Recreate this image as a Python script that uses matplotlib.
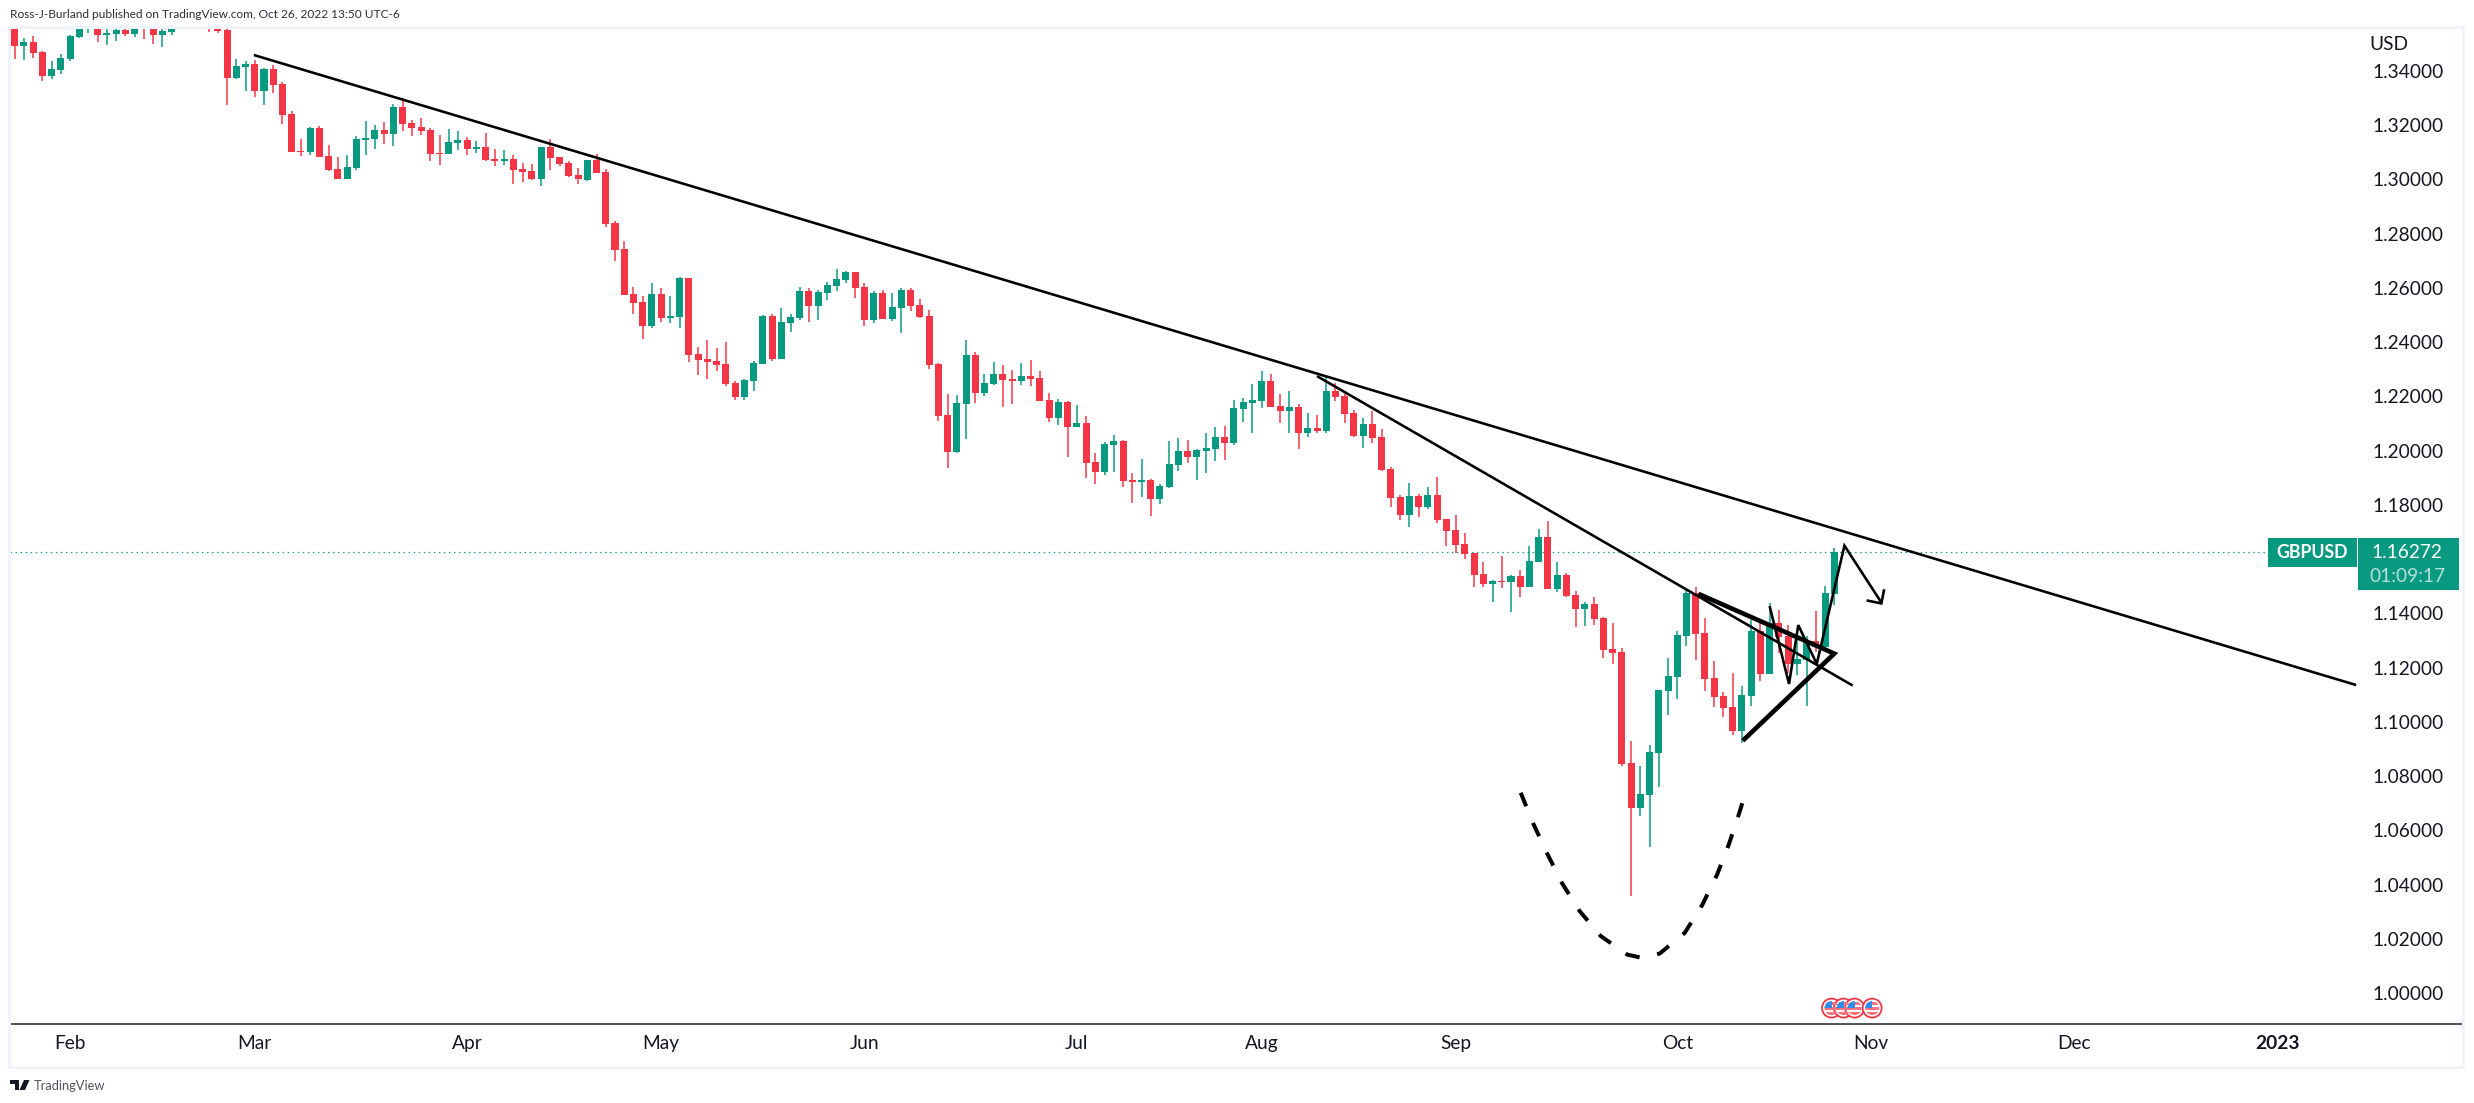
import numpy as np
import matplotlib
matplotlib.use("Agg")
import matplotlib.pyplot as plt
from matplotlib.patches import Rectangle, Circle, Polygon
from matplotlib.transforms import IdentityTransform

W, H = 2474, 1103
FONT = "Lato"
plt.rcParams["font.family"] = [FONT, "DejaVu Sans"]

# ---- candle data (GBPUSD daily) ----
direction = ("RGRRGGGGGR" "GGRGRRGGGR" "GRRRGGRGRR" "RRGRRRGGGG" "RGRRRRRGGR"
             "GRRGRRRGRR" "RRGRRRRRRG" "RGGRRRRRRG" "GGRGGGRGGG" "GRRGRGGRRR"
             "RRGGRGGRRG" "RRRGRGRRGG" "RRGRGGGRGG" "GRGGGGRRGR" "GRGRRRGRRR"
             "RGRGRRRRRR" "GRGRGGRGRR" "GRRRRRGGGG" "GGRRRRRGGR" "GRRGGRGG")
high = [
 1.3588,1.3522,1.3529,1.3473,1.3437,1.3463,1.3533,1.3576,1.3576,1.3576,
 1.3554,1.3561,1.3557,1.3570,1.3576,1.3566,1.3557,1.3570,1.3588,1.3588,
 1.3588,1.3582,1.3576,1.3554,1.3443,1.3437,1.3441,1.3410,1.3422,1.3358,
 1.3251,1.3149,1.3195,1.3197,1.3127,1.3082,1.3090,1.3160,1.3216,1.3200,
 1.3212,1.3277,1.3299,1.3218,1.3227,1.3189,1.3164,1.3186,1.3179,1.3157,
 1.3142,1.3170,1.3113,1.3109,1.3090,1.3061,1.3057,1.3120,1.3148,1.3084,
 1.3067,1.3042,1.3073,1.3094,1.3039,1.2848,1.2773,1.2604,1.2570,1.2618,
 1.2600,1.2570,1.2640,1.2637,1.2382,1.2408,1.2379,1.2401,1.2257,1.2264,
 1.2331,1.2500,1.2504,1.2526,1.2504,1.2604,1.2600,1.2592,1.2622,1.2670,
 1.2663,1.2659,1.2618,1.2589,1.2592,1.2581,1.2600,1.2600,1.2559,1.2519,
 1.2323,1.2209,1.2205,1.2408,1.2364,1.2283,1.2327,1.2316,1.2298,1.2323,
 1.2334,1.2294,1.2213,1.2191,1.2183,1.2168,1.2128,1.1992,1.2032,1.2058,
 1.2040,1.1918,1.1969,1.1896,1.1877,1.2036,1.2047,1.2040,1.2006,1.2065,
 1.2087,1.2091,1.2187,1.2194,1.2246,1.2294,1.2283,1.2209,1.2220,1.2172,
 1.2139,1.2132,1.2279,1.2250,1.2217,1.2150,1.2121,1.2147,1.2080,1.1940,
 1.1837,1.1881,1.1840,1.1866,1.1903,1.1748,1.1763,1.1697,1.1624,1.1590,
 1.1523,1.1612,1.1542,1.1560,1.1649,1.1711,1.1741,1.1590,1.1549,1.1483,
 1.1442,1.1461,1.1387,1.1365,1.1273,1.0930,1.0838,1.0915,1.1118,1.1236,
 1.1335,1.1490,1.1497,1.1383,1.1225,1.1110,1.1180,1.1133,1.1376,1.1368,
 1.1438,1.1413,1.1357,1.1321,1.1317,1.1409,1.1501,1.1641]
body_top = [
 1.3559,1.3507,1.3507,1.3470,1.3407,1.3447,1.3529,1.3566,1.3570,1.3566,
 1.3540,1.3550,1.3550,1.3561,1.3566,1.3561,1.3546,1.3561,1.3576,1.3582,
 1.3582,1.3576,1.3570,1.3551,1.3418,1.3426,1.3426,1.3406,1.3407,1.3352,
 1.3241,1.3105,1.3190,1.3190,1.3087,1.3039,1.3046,1.3149,1.3153,1.3183,
 1.3183,1.3267,1.3267,1.3208,1.3194,1.3183,1.3098,1.3137,1.3146,1.3146,
 1.3120,1.3120,1.3076,1.3076,1.3076,1.3039,1.3031,1.3120,1.3120,1.3083,
 1.3061,1.3017,1.3071,1.3072,1.3028,1.2840,1.2744,1.2578,1.2548,1.2578,
 1.2578,1.2497,1.2637,1.2637,1.2356,1.2338,1.2331,1.2320,1.2250,1.2261,
 1.2323,1.2497,1.2497,1.2475,1.2493,1.2589,1.2589,1.2585,1.2611,1.2633,
 1.2659,1.2659,1.2604,1.2581,1.2581,1.2530,1.2592,1.2592,1.2537,1.2497,
 1.2320,1.2132,1.2176,1.2353,1.2353,1.2250,1.2283,1.2283,1.2264,1.2275,
 1.2275,1.2268,1.2187,1.2180,1.2180,1.2102,1.2102,1.1958,1.2025,1.2036,
 1.2036,1.1892,1.1892,1.1892,1.1870,1.1951,1.1999,1.1999,1.2003,1.2010,
 1.2051,1.2051,1.2158,1.2180,1.2187,1.2257,1.2257,1.2165,1.2161,1.2161,
 1.2084,1.2084,1.2220,1.2220,1.2202,1.2139,1.2099,1.2099,1.2051,1.1933,
 1.1829,1.1833,1.1833,1.1837,1.1837,1.1748,1.1708,1.1656,1.1623,1.1545,
 1.1520,1.1520,1.1538,1.1538,1.1593,1.1682,1.1682,1.1542,1.1542,1.1468,
 1.1435,1.1435,1.1383,1.1269,1.1258,1.0849,1.0734,1.0889,1.1118,1.1169,
 1.1321,1.1475,1.1475,1.1328,1.1162,1.1096,1.1055,1.1099,1.1335,1.1335,
 1.1365,1.1365,1.1317,1.1232,1.1298,1.1298,1.1475,1.16272]
body_bot = [
 1.3493,1.3493,1.3468,1.3383,1.3383,1.3405,1.3445,1.3527,1.3563,1.3533,
 1.3534,1.3538,1.3535,1.3538,1.3561,1.3533,1.3533,1.3545,1.3570,1.3573,
 1.3573,1.3570,1.3548,1.3375,1.3375,1.3416,1.3327,1.3327,1.3350,1.3239,
 1.3103,1.3101,1.3103,1.3084,1.3035,1.3003,1.3003,1.3043,1.3147,1.3151,
 1.3168,1.3169,1.3206,1.3191,1.3180,1.3095,1.3094,1.3095,1.3136,1.3114,
 1.3114,1.3073,1.3069,1.3069,1.3036,1.3029,1.3002,1.3003,1.3081,1.3058,
 1.3014,1.3000,1.2998,1.3025,1.2837,1.2741,1.2574,1.2545,1.2460,1.2460,
 1.2489,1.2489,1.2493,1.2353,1.2334,1.2327,1.2316,1.2246,1.2198,1.2198,
 1.2257,1.2320,1.2338,1.2338,1.2471,1.2489,1.2533,1.2533,1.2581,1.2607,
 1.2629,1.2600,1.2482,1.2482,1.2486,1.2486,1.2526,1.2533,1.2493,1.2316,
 1.2128,1.1995,1.1995,1.2172,1.2213,1.2213,1.2246,1.2261,1.2257,1.2257,
 1.2264,1.2183,1.2121,1.2121,1.2087,1.2087,1.1955,1.1922,1.1922,1.2021,
 1.1888,1.1885,1.1885,1.1822,1.1822,1.1866,1.1947,1.1977,1.1977,1.1999,
 1.2006,1.2029,1.2029,1.2154,1.2176,1.2183,1.2161,1.2147,1.2147,1.2065,
 1.2065,1.2073,1.2073,1.2198,1.2135,1.2054,1.2054,1.2047,1.1929,1.1826,
 1.1763,1.1763,1.1793,1.1793,1.1745,1.1704,1.1652,1.1619,1.1542,1.1509,
 1.1509,1.1516,1.1516,1.1498,1.1498,1.1590,1.1490,1.1490,1.1464,1.1416,
 1.1416,1.1380,1.1265,1.1254,1.0845,1.0683,1.0683,1.0731,1.0886,1.1114,
 1.1166,1.1317,1.1324,1.1158,1.1092,1.1051,1.0967,1.0967,1.1096,1.1177,
 1.1177,1.1313,1.1214,1.1214,1.1228,1.1276,1.1276,1.1472]
low = [
 1.3444,1.3441,1.3448,1.3364,1.3371,1.3389,1.3437,1.3522,1.3539,1.3507,
 1.3495,1.3511,1.3529,1.3527,1.3517,1.3499,1.3490,1.3533,1.3557,1.3568,
 1.3568,1.3544,1.3541,1.3275,1.3372,1.3327,1.3305,1.3275,1.3320,1.3205,
 1.3103,1.3087,1.3092,1.3084,1.3033,1.3003,1.3003,1.3035,1.3092,1.3114,
 1.3132,1.3123,1.3180,1.3160,1.3165,1.3069,1.3053,1.3093,1.3109,1.3090,
 1.3099,1.3069,1.3051,1.3055,1.2983,1.2992,1.2998,1.2977,1.3035,1.3051,
 1.3009,1.2983,1.2996,1.3025,1.2826,1.2699,1.2574,1.2504,1.2412,1.2452,
 1.2474,1.2471,1.2452,1.2327,1.2279,1.2264,1.2294,1.2238,1.2187,1.2187,
 1.2220,1.2320,1.2331,1.2338,1.2438,1.2482,1.2474,1.2482,1.2556,1.2589,
 1.2618,1.2563,1.2460,1.2471,1.2486,1.2478,1.2434,1.2515,1.2489,1.2301,
 1.2110,1.1936,1.1992,1.2043,1.2176,1.2202,1.2242,1.2161,1.2172,1.2242,
 1.2239,1.2183,1.2106,1.2095,1.1977,1.2087,1.1899,1.1877,1.1911,1.1922,
 1.1866,1.1807,1.1829,1.1759,1.1804,1.1863,1.1925,1.1955,1.1892,1.1918,
 1.1962,1.1966,1.2021,1.2106,1.2065,1.2158,1.2161,1.2102,1.2065,1.2006,
 1.2051,1.2065,1.2065,1.2183,1.2102,1.2051,1.2010,1.2029,1.1925,1.1793,
 1.1745,1.1719,1.1756,1.1785,1.1734,1.1649,1.1623,1.1601,1.1498,1.1498,
 1.1442,1.1494,1.1405,1.1461,1.1498,1.1590,1.1490,1.1479,1.1461,1.1350,
 1.1354,1.1358,1.1236,1.1214,1.0838,1.0358,1.0653,1.0539,1.0760,1.1026,
 1.1085,1.1280,1.1228,1.1114,1.1055,1.1018,1.0952,1.0922,1.1059,1.1151,
 1.1177,1.1254,1.1180,1.1173,1.1059,1.1258,1.1276,1.1431]

# 1.16 is hidden behind the last-price tag in the reference
price_ticks = [1.00,1.02,1.04,1.06,1.08,1.10,1.12,1.14,1.18,
               1.20,1.22,1.24,1.26,1.28,1.30,1.32,1.34]
month_pos = [6,26,49,70,92,115,135,156,180,201,223,245]
month_labels = ["Feb","Mar","Apr","May","Jun","Jul","Aug","Sep","Oct","Nov","Dec","2023"]
last_price = 1.16272

# drawings on the chart (bar index, price)
trend_main_x, trend_main_y = [25.9, 253.5], [1.3459, 1.1136]
trend_second_x, trend_second_y = [141.0, 199.0], [1.2275, 1.1134]
wedge_x, wedge_y = [182.3, 197.0, 187.1], [1.1472, 1.1252, 1.0931]
zigzag_x = [190.0, 192.1, 193.1, 195.1, 198.1, 202.1]
zigzag_y = [1.1427, 1.1140, 1.1357, 1.1214, 1.1650, 1.1440]
head_x, head_y = [200.5, 202.1, 202.4], [1.1448, 1.1437, 1.1489]
bowl_x = [163.05,164.4,165.9,167.5,169.4,171.7,174.6,176.2,178.1,180.8,182.7,184.3,185.6,186.7,187.1]
bowl_y = [1.0739,1.0626,1.0516,1.0407,1.0304,1.0211,1.0142,1.0130,1.0146,1.0222,1.0325,1.0436,1.0550,1.0663,1.0707]
event_x = [196.7, 198.0, 199.2, 201.1]
event_price = 0.9945

GREEN, RED = "#089981", "#f23645"
FRAME, AXIS = "#f0f3fa", "#2a2e39"
px = 0.72  # points per pixel at dpi 100
LABEL = 13.8

fig = plt.figure(figsize=(W/100, H/100), dpi=100, facecolor="white")
def box(l, t, r, b):
    return [l/W, 1-b/H, (r-l)/W, (b-t)/H]

ax = fig.add_axes(box(10, 27, 2462, 1024))
ax.set_facecolor("white")
ax.set_xlim((10-14.6)/9.237, (2462-14.6)/9.237)
ax.set_ylim(0.98863, 1.35622)

x = np.arange(len(high))
is_up = np.array([c == "G" for c in direction])
colors = np.where(is_up, GREEN, RED)
top, bot = np.array(body_top), np.array(body_bot)
open_ = np.where(is_up, bot, top)
close = np.where(is_up, top, bot)

ax.axhline(last_price, xmax=(2268-10)/(2462-10), color=GREEN, lw=1.2*px,
           ls=(0, (1.2, 3)), zorder=1)
ax.vlines(x, low, high, colors=colors, lw=1.5*px, zorder=2)
ax.bar(x, np.maximum(top-bot, 0.0003), bottom=bot, width=0.76, color=colors, linewidth=0, zorder=3)

ax.plot(trend_main_x, trend_main_y, color="black", lw=2.6*px, solid_capstyle="butt", zorder=5)
ax.plot(trend_second_x, trend_second_y, color="black", lw=2.6*px, solid_capstyle="butt", zorder=5)
ax.plot(wedge_x, wedge_y, color="black", lw=4.6*px, solid_joinstyle="miter", solid_capstyle="butt", zorder=5)
ax.plot(zigzag_x, zigzag_y, color="black", lw=2.6*px, solid_joinstyle="miter", solid_capstyle="butt", zorder=6)
ax.plot(head_x, head_y, color="black", lw=2.6*px, solid_joinstyle="miter", solid_capstyle="butt", zorder=6)
ax.plot(bowl_x, bowl_y, color="black", lw=4*px, ls=(0, (3.65, 4.5)), dash_capstyle="butt", zorder=5)

for s in ("top", "left", "right"):
    ax.spines[s].set_visible(False)
ax.spines["bottom"].set_color(AXIS)
ax.spines["bottom"].set_linewidth(1.6*px)

ax.yaxis.tick_right()
ax.set_yticks(price_ticks)
ax.set_yticklabels([f"{p:.5f}" for p in price_ticks])
ax.tick_params(axis="y", length=0, pad=(2372-2462)*px, labelsize=LABEL, labelcolor="#131722")
ax.set_xticks(month_pos)
ax.set_xticklabels(month_labels)
ax.tick_params(axis="x", length=0, pad=11*px, labelsize=LABEL, labelcolor="#131722")
ax.get_xticklabels()[-1].set_fontweight("bold")

# frame
for (l, t, w_, h_) in [(8, 26, 2457, 2.5), (8, 1065.5, 2457, 3), (8, 26, 2.5, 1042), (2462, 26, 3, 1042)]:
    fig.add_artist(Rectangle((l/W, 1-(t+h_)/H), w_/W, h_/H, transform=fig.transFigure,
                             color=FRAME, lw=0, zorder=10))

def ftext(xp, yp, s, **kw):
    return fig.text(xp/W, 1-yp/H, s, **kw)

ftext(10, 15, "Ross-J-Burland published on TradingView.com, Oct 26, 2022 13:50 UTC-6",
      fontsize=8.6, color="#2a2e39", va="center", ha="left")
ftext(2369, 45, "USD", fontsize=LABEL, color="#131722", va="center", ha="left")
ftext(34, 1086, "TradingView", fontsize=9.3, color="#50535e", va="center", ha="left")

# TradingView logo
def pxpoly(pts, **kw):
    fig.add_artist(Polygon([(a/W, 1-b/H) for a, b in pts], closed=True,
                           transform=fig.transFigure, **kw))
pxpoly([(10, 1080), (18.5, 1080), (18.5, 1090), (14.5, 1090), (14.5, 1084), (10, 1084)], color="#131722", lw=0)
pxpoly([(24, 1080), (29.5, 1080), (25, 1090), (19.5, 1090)], color="#131722", lw=0)

# last price tags
for (l, t, r, b) in [(2268, 538, 2357, 567), (2358, 538, 2459, 590)]:
    fig.add_artist(Rectangle((l/W, 1-b/H), (r-l)/W, (b-t)/H, transform=fig.transFigure,
                             color=GREEN, lw=0, zorder=11))
ftext(2312, 553, "GBPUSD", fontsize=12.8, color="white", ha="center", va="center", fontweight="bold", zorder=12)
ftext(2407, 553, f"{last_price:.5f}", fontsize=LABEL, color="white", ha="center", va="center", zorder=12)
ftext(2407, 577, "01:09:17", fontsize=LABEL, color="#b5e0d9", ha="center", va="center", zorder=12)

# event markers (US flag badges)
for ex in event_x:
    cx, cy = ax.transData.transform((ex, event_price))
    idt = IdentityTransform()
    r = 9.5
    fig.add_artist(Circle((cx, cy), r, transform=idt, facecolor="white", edgecolor=RED, lw=1.8*px, zorder=20))
    clip = Circle((cx, cy), r-2.5, transform=idt)
    for dy, hh, col in [(-6.5, 2.2, "#f7737d"), (-1.5, 3, "#f7737d"), (3.5, 3, "#f7737d")]:
        st = Rectangle((cx-r, cy+dy), 2*r, hh, transform=idt, facecolor=col, lw=0, zorder=21)
        fig.add_artist(st)
        st.set_clip_path(clip)
    ca = Rectangle((cx-r, cy), r, r, transform=idt, facecolor="#2f8fe8", lw=0, zorder=22)
    fig.add_artist(ca)
    ca.set_clip_path(clip)

fig.savefig("out.png", dpi=100, facecolor="white")
